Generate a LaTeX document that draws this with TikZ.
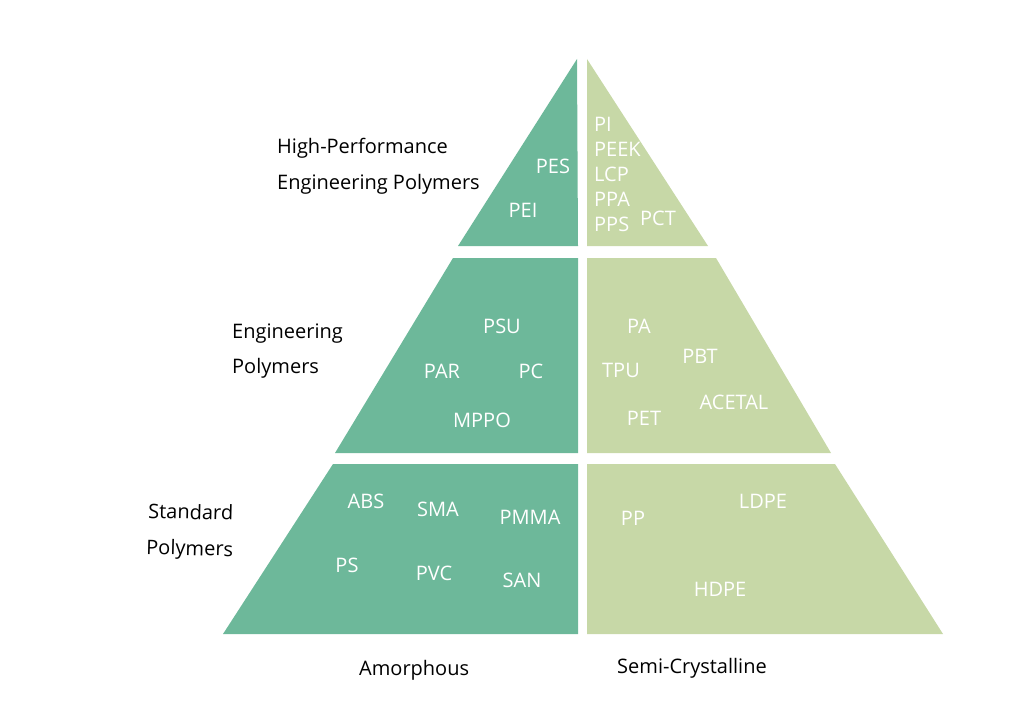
\documentclass[tikz,border=0pt]{standalone}
\usepackage{fontspec}
\setmainfont{Open Sans}
\usetikzlibrary{positioning}
\definecolor{amorphgreen}{RGB}{109,184,154}
\definecolor{semigreen}{RGB}{199,216,167}

\begin{document}
\begin{tikzpicture}[x=1pt, y=-1pt,
    tierlabel/.style={anchor=base west, inner sep=0pt, font=\fontsize{20}{24}\selectfont},
    resin/.style={text=white, inner sep=0pt, text height=14pt, text depth=0pt, font=\fontsize{20}{24}\selectfont}]
  \useasboundingbox (0,0) rectangle (1023,725);
  % amorphous half
  \fill[amorphgreen] (577,59) -- (578,246) -- (458,246) -- cycle;
  \fill[amorphgreen] (453,258) -- (578,258) -- (578,453) -- (335,453) -- cycle;
  \fill[amorphgreen] (333,464) -- (578,464) -- (578,634) -- (223,634) -- cycle;
  % semi-crystalline half
  \fill[semigreen] (587,59) -- (708,246) -- (587,246) -- cycle;
  \fill[semigreen] (587,258) -- (716,258) -- (831,453) -- (587,453) -- cycle;
  \fill[semigreen] (587,464) -- (835,464) -- (943,634) -- (587,634) -- cycle;

  % tier names
  \node[tierlabel] (hp1) at (277,153) {High-Performance};
  \node[tierlabel] (hp2) at (277,189) {Engineering Polymers};
  \node[tierlabel] (ep1) at (232,338) {Engineering};
  \node[tierlabel] (ep2) at (232,373) {Polymers};
  \node[tierlabel, rotate=-1.5] (sp1) at (148,518) {Standard};
  \node[tierlabel, rotate=-1.5] (sp2) at (146,554) {Polymers};
  \node[tierlabel] (amorph) at (359,675) {Amorphous};
  \node[tierlabel] (semi) at (617,673) {Semi-Crystalline};

  % high-performance
  \node[resin] (pes) at (553,166) {PES};
  \node[resin] (pei) at (523,210) {PEI};
  \node[resin, anchor=west] (pi) at (594,124) {PI};
  \node[resin, anchor=west] (peek) at (594,149) {PEEK};
  \node[resin, anchor=west] (lcp) at (594,174) {LCP};
  \node[resin, anchor=west] (ppa) at (594,199) {PPA};
  \node[resin, anchor=west] (pps) at (594,224) {PPS};
  \node[resin] (pct) at (658,218) {PCT};

  % engineering
  \node[resin] (psu) at (502,326) {PSU};
  \node[resin] (par) at (442,371) {PAR};
  \node[resin] (pc) at (531,371) {PC};
  \node[resin] (mppo) at (482,420) {MPPO};
  \node[resin] (pa) at (639,326) {PA};
  \node[resin] (pbt) at (700,356) {PBT};
  \node[resin] (tpu) at (621,370) {TPU};
  \node[resin] (acetal) at (734,402) {ACETAL};
  \node[resin] (pet) at (644,418) {PET};

  % standard
  \node[resin] (abs) at (366,501) {ABS};
  \node[resin] (sma) at (438,509) {SMA};
  \node[resin] (pmma) at (530,517) {PMMA};
  \node[resin] (ps) at (347,565) {PS};
  \node[resin] (pvc) at (434,573) {PVC};
  \node[resin] (san) at (522,580) {SAN};
  \node[resin] (pp) at (633,518) {PP};
  \node[resin] (ldpe) at (763,501) {LDPE};
  \node[resin] (hdpe) at (720,589) {HDPE};
\end{tikzpicture}
\end{document}
